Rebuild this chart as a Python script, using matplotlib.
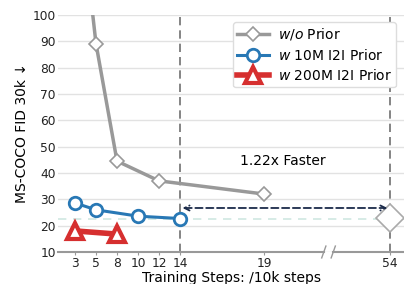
import numpy as np
import matplotlib
matplotlib.use("Agg")
import matplotlib.pyplot as plt

# tick categories (broken, non-linear axis) and their slot positions
step_labels = ["3", "5", "8", "10", "12", "14", "19", "54"]
step_slots = [0, 1, 2, 3, 4, 5, 9, 15]

# FID values per series
wo_steps = ["3", "5", "8", "12", "19"]
wo_fid = [160, 89, 44.5, 37, 32]
wo_final_step = "54"
wo_final_fid = 22.9

i2i10_steps = ["3", "5", "10", "14"]
i2i10_fid = [28.6, 26.0, 23.6, 22.7]

i2i200_steps = ["3", "8"]
i2i200_fid = [18.0, 16.8]

speedup_text = "1.22x Faster"

slot = dict(zip(step_labels, step_slots))


def to_x(steps):
    return [slot[s] for s in steps]


fig = plt.figure(figsize=(4.04, 2.84), dpi=100)
ax = fig.add_axes((0.1436, 0.1127, 0.8564, 0.835))

gray = "#999999"
blue = "#2878b5"
red = "#d62f2f"

ax.plot(to_x(wo_steps), wo_fid, color=gray, lw=2.5, marker="D", ms=7,
        mfc="white", mec=gray, mew=1.2, label=r"$\mathit{w/o}$ Prior", zorder=3)
ax.plot(to_x(i2i10_steps), i2i10_fid, color=blue, lw=2.2, marker="o", ms=9,
        mfc="white", mec=blue, mew=2, label=r"$\mathit{w}$ 10M I2I Prior", zorder=4)
ax.plot(to_x(i2i200_steps), i2i200_fid, color=red, lw=4, marker="^", ms=12,
        mfc="white", mec=red, mew=3, label=r"$\mathit{w}$ 200M I2I Prior", zorder=4)
ax.plot([slot[wo_final_step]], [wo_final_fid], marker="D", ms=14, mfc="white",
        mec="#aaaaaa", mew=1.2, ls="none", zorder=4)

# reference lines
ax.axhline(i2i10_fid[-1], color="#cfe8e2", lw=1.2, ls=(0, (5, 4)), zorder=1)
ax.axvline(slot["14"], color="#707070", lw=1.2, ls=(0, (5, 3)), zorder=2)
ax.axvline(slot["54"], color="#707070", lw=1.2, ls=(0, (5, 3)), zorder=2)
ax.annotate("", xy=(slot["54"] - 0.12, 26.7), xytext=(slot["14"] + 0.12, 26.7),
            arrowprops=dict(arrowstyle="<->", color="#1c2b4a", lw=1.3,
                            ls=(0, (4, 2)), shrinkA=0, shrinkB=0,
                            mutation_scale=9), zorder=5)
ax.text((slot["14"] + slot["54"]) / 2 - 0.1, 44.6, speedup_text, ha="center",
        va="center", fontsize=10)

ax.set_xlim(-0.81, 15.67)
ax.set_ylim(10, 100)
ax.set_yticks(np.arange(10, 101, 10))
ax.set_xticks(step_slots)
ax.set_xticklabels(step_labels)
ax.tick_params(axis="both", labelsize=8.8, colors="#222222")
ax.tick_params(axis="y", length=0, pad=1.5)
ax.tick_params(axis="x", length=2, width=0.8, color="#999999", pad=1.5)
ax.grid(axis="y", color="#e2e2e2", lw=1)
ax.set_axisbelow(True)
for side in ["top", "right", "left", "bottom"]:
    ax.spines[side].set_visible(False)

# bottom spine with a break
trans = ax.get_xaxis_transform()
b1, b2 = 11.85, 12.3
ax.plot([-0.81, b1], [0, 0], color="#999999", lw=1.5, transform=trans, clip_on=False)
ax.plot([b2, 15.67], [0, 0], color="#999999", lw=1.5, transform=trans, clip_on=False)
for b in (b1, b2):
    ax.plot([b - 0.1, b + 0.1], [-0.025, 0.025], color="#999999", lw=1,
            transform=trans, clip_on=False)

ax.set_xlabel("Training Steps: /10k steps", fontsize=10, labelpad=1)
ax.set_ylabel("MS-COCO FID 30k \u2193", fontsize=10, labelpad=3)

ax.legend(loc="upper right", bbox_to_anchor=(0.977, 0.97), borderaxespad=0,
          fontsize=10, handlelength=2.3, borderpad=0.3, labelspacing=0.4,
          handletextpad=0.6, framealpha=1, edgecolor="#dddddd", fancybox=True)

fig.savefig("out.png", dpi=100)
